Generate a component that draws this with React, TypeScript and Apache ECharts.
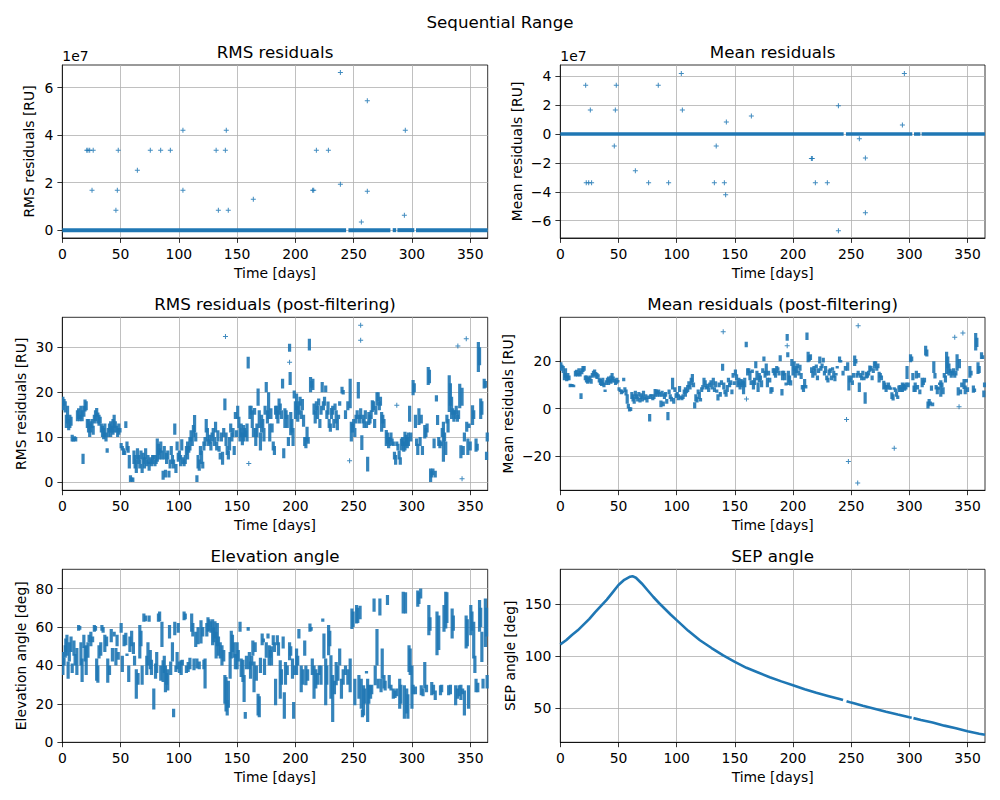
import React, { useEffect, useRef } from 'react';
import * as echarts from 'echarts';

const BLUE = '#1f77b4';
const FONT = 'DejaVu Sans';

// ---------- tick values ----------
const X_TICKS = [0, 50, 100, 150, 200, 250, 300, 350];
const RMS_TICKS = [0, 2e7, 4e7, 6e7];
const MEAN_TICKS = [-6e7, -4e7, -2e7, 0, 2e7, 4e7];
const RMS_POST_TICKS = [0, 10, 20, 30];
const MEAN_POST_TICKS = [-20, 0, 20];
const ELEV_TICKS = [0, 20, 40, 60, 80];
const SEP_TICKS = [50, 100, 150];

// ---------- RMS / Mean residuals (raw) ----------
// dense runs of points at zero: [startDay, endDay, value]
const RMS_ZERO_RUNS = [[0, 243.5, 0], [245.5, 281.5, 0], [283.5, 286.5, 0], [287.5, 302, 0], [303.5, 365, 0]];
const MEAN_ZERO_RUNS = [[0, 243.5, 0], [245.5, 302.5, 0], [304, 309.5, 0], [310.5, 365, 0]];

const RMS_OUTLIERS = [
  [21, 3.36e7], [22, 3.36e7], [23.5, 3.36e7], [26.5, 3.36e7], [25.5, 1.68e7], [46, 0.84e7], [47.2, 1.68e7],
  [48, 3.36e7], [64.4, 2.52e7], [75.5, 3.36e7], [84.4, 3.36e7], [92.7, 3.36e7], [103.5, 4.2e7], [103.5, 1.68e7],
  [132, 3.36e7], [133.9, 0.84e7], [139.9, 3.36e7], [140.7, 4.2e7], [142.4, 0.84e7], [163.9, 1.3e7],
  [214.8, 1.68e7], [215.7, 1.68e7], [218, 3.36e7], [228.3, 3.36e7], [238.6, 6.63e7], [238.6, 1.93e7],
  [256.6, 0.34e7], [261.7, 5.45e7], [261.7, 1.64e7], [293.5, 0.63e7], [294.3, 4.2e7],
];

const MEAN_OUTLIERS = [
  [21.8, 3.38e7], [22.3, -3.38e7], [24.4, -3.38e7], [26.9, -3.38e7], [25.8, 1.66e7], [46.4, -0.83e7],
  [47.3, 1.66e7], [48.1, 3.38e7], [64.5, -2.55e7], [75.9, -3.38e7], [84.2, 3.38e7], [93.1, -3.38e7],
  [104, 4.2e7], [104.9, 1.66e7], [132.4, -3.38e7], [134, -0.83e7], [141, -3.38e7], [142.1, -4.2e7],
  [142.7, 0.83e7], [164.2, 1.24e7], [215.8, -1.7e7], [216.6, -1.7e7], [219.2, -3.38e7], [229.5, -3.38e7],
  [239, 1.95e7], [239, -6.7e7], [257, -0.32e7], [262.2, -1.66e7], [262.2, -5.45e7], [294, 0.62e7], [295.7, 4.2e7],
];

// ---------- post-filtering: passes as [day, low, high] ----------
const RMS_POST_PASSES = [
  [0.5,16,19],[1.5,17,18.5],[2.5,15.5,18],[3.5,12,15],[4.5,13,17],[5.5,11.5,14],[6.5,12,15],[7.5,12.5,14.5],
  [8.5,9,10.5],[9.5,9,10],[10.5,9.2,10.2],[11.5,9,10],[13,13.5,16],[14,14,16.4],[15,13.5,15],[16,14,17],
  [17,13.5,16],[17.8,4,6.3],[18.5,14.5,17],[19.5,15.7,18.4],[20.5,16,18],[21.5,12,14],[22.5,11,14],[23.5,10,13],
  [24.5,11,13.5],[25.5,12,14],[26.5,10.5,12.5],[27.5,13,15],[28.5,13.5,16],[29.5,14.5,16.5],[30.5,13,15.5],
  [31.5,12.5,15],[32.5,13,14.5],[33.5,11,13],[34.5,10,12.5],[35.5,9.5,12],[36.5,10,13],[37.5,9,11],[38.5,6.5,7.5],
  [39.5,10,12],[40.5,11,13],[41.5,10,13.5],[42.5,11,12.5],[43.5,10.5,14],[44.5,11,15],[45.5,12,13.5],[46.5,11,12.5],
  [47.5,10,12],[48.5,10.5,13],[49.5,11,12],[50.5,7.5,8.7],[51.5,7,8],[52.5,6,7.5],[53.5,6,7],[54.5,12,13.5],
  [55.5,7,9],[56.5,6.5,8],[57.5,3,6],[58.5,0,1.5],[59.5,0.2,1],[60.5,0,1],[61.5,4,7],[62.5,3,6],[63.5,2,5],
  [64.5,5,7.5],[65.5,4,6],[66.5,3,5],[67.5,5,7],[68.5,2,4],[69.5,4,6.5],[70.5,3,5.5],[71.5,5,7.5],[72.5,3.5,5],
  [73.5,4,6],[74.5,2.5,4.5],[75.5,4,5.5],[76.5,3.5,5],[77.5,4,6],[78.5,5,6],[79.5,3.5,5],[80.5,4,6],[81.5,4.5,9.7],
  [82.5,6,8.5],[83.5,5,7.5],[84.5,6.5,9],[85.5,5,7],[86.5,0.5,2.5],[87.5,5,8],[88.5,1,2.7],[89.5,4,6.5],[90.5,5,7],
  [91.5,1,2.5],[92.5,3,5],[93.5,6,8],[94.5,4,6],[95.5,3,5],[96.5,10.5,13],[97.5,2,4],[98.5,7,9],[99.5,4.5,6.5],
  [100.5,5,7],[101.5,3.5,6],[102.5,7,9.5],[103.5,4,5.5],[104.5,3.5,5],[105.5,4,6],[106.5,6,8],[107.5,5,9],
  [108.5,6.5,8],[109.5,7,10],[110.5,9,11.5],[111.5,8,10],[112.5,10,12.7],[113.5,11,14.9],[114.5,9,11],[115.5,0,1.5],
  [116.5,3,6],[117.5,2.5,5],[118.5,6,8],[119.5,4,7],[120.5,3,4.5],[121.5,7,9],[122.5,8,10],[123.5,11,14],
  [124.5,9,12],[125.5,8,9.5],[126.5,8.5,10.5],[127.5,7,9],[128.5,9,11],[129.5,10,12],[130.5,8,10],[131.5,11,13.4],
  [132.5,7,9],[133.5,9,11.5],[134.5,6.7,8],[135.5,5,6.5],[136.5,9,11],[137.5,3.8,6.7],[138.5,10,12],[139.5,16,18.6],
  [140.5,8,11],[141.5,6,8],[142.5,5,7],[143.5,7,10],[144.5,11,13],[145.5,9,11],[146.5,10,12],[147.5,6,8],
  [148.5,14,15.6],[149.5,10,11.5],[150.5,14,17],[151.5,12,14.5],[152.5,9,12],[153.5,10,13],[154.5,8.2,11],
  [155.5,9,12.7],[156.5,10,12],[157.5,10,11.5],[158.5,9,13],[159.5,25.3,27.9],[161,14,17],[162,15,17],[163,12,16],
  [164,10,12],[165,15,16.5],[166,8,12],[167,10,13],[168,17,20.8],[169,12,16],[170,7,11],[171,11,15],[172,12,14],
  [173,9,12],[174,15,17],[175,20,22.3],[176,13,16],[177,14,20],[178,9,13],[179,14,16.4],[180,11,13],[181,7,9],
  [182,6,8],[183,15,17],[184,14,17],[185,13,16],[186,15,18.6],[187,16,17.5],[188,14,16],[189,20.8,23],[190,5.3,7.5],
  [191,12,16.4],[192,14,16],[193,12,15],[194,8,10],[195,29,30.8],[195.5,21.6,24.5],[196,10.4,15.6],[197,11,14],
  [198,8,12],[199,18.6,20.4],[200,14,18],[201,16,19.7],[202,13.4,17],[203,15,18],[204,17,19],[205,14,16],
  [206,16,18.5],[207,12.3,15],[208,8,10],[209,7.5,10],[210,9,12.3],[211,8.5,10],[212,29.3,31.9],[213,20,23.4],
  [214,21,22.5],[215,20.5,23],[216,15,17.5],[217,13,16],[218,16,18],[219,14,17],[220,17,18.6],[221,12,14],
  [222,15,17],[223,20,22.3],[224,16,18],[225,17,19],[226,20,21.5],[227,14,16],[228,15,17.9],[229,12,14],
  [230,11.2,13],[231,14,16.5],[232,15,17],[233,12,14],[234,16,17.5],[235,13,16],[236,11.5,14],[237,14,15],
  [238,17,18],[240,19.7,21.2],[241,19.5,20.5],[243,14,16],[245,16,18],[247,16.4,23],[248,9,13.4],[249,11,13],
  [250,12,14],[251,10,12],[252,13,15],[253,14,16],[254,18.6,22.3],[255,13,15],[256,14,16.4],[257,7.1,10.4],
  [258,13,15],[259,12,14],[260,14,16],[261,12,13.5],[262,2.3,5.6],[263,12.7,15.6],[264,13,15],[265,14,16],
  [266,15.6,18.2],[267,16,18],[268,12,14],[269,15,17],[270,17,20],[271,18,20],[272,16,18],[273,17,19],
  [274,11.2,15.6],[275,13,15],[276,12,14],[278,8,11.6],[279,8.5,11],[280,7.5,10],[281,8,10],[282,9,11],
  [283,8.2,9.7],[284,8,9],[285,5,6.7],[286,3.8,6],[287,8,9],[288,7,8.5],[289,5,7],[290,3.8,5.5],[291,7,9.7],
  [292,8,10],[293,6.7,9],[294,7,11.2],[295,8,10.5],[296,7.5,10],[297,8,11],[298,13.4,17],[299,9,11],
  [301,19.3,22.7],[302,20,22],[303,12,15],[304,8,9.7],[305,6,8.5],[306,12.7,16.4],[307,8,10],[308,13,15],
  [309,6,8],[311,9.7,12.7],[312,10,12],[313,11,13],[314,21.6,25.6],[315,22,25],[316,0,3],[317,1,2.5],[318,1.5,3],
  [319,7.5,9.7],[320,1,2.5],[321,17.9,19.3],[322,12.7,14.9],[323,8,10],[324,7.5,9.3],[325,8,9],[326,10,12],
  [327,4.5,13.4],[328,9,11],[329,6,9],[330,13,15],[331,11,14],[332,15.6,23.8],[333,17,22],[334,14,19],
  [335,15,16.4],[336,13.4,16],[337,14,16],[338,15,17],[339,13.4,15],[340,14,16],[341,16.4,21.9],[342,5.3,8.2],
  [343,17,21],[344,6,8],[345,9,11],[347,11.2,13.4],[348,6,9.7],[349,12,13],[350,7,9],[352,12.7,17.1],[353,14,16],
  [355,6.7,9.7],[356,7,8.5],[357,24.5,31.2],[358,26,30],[359,14,18.6],[360,15,18],[362,20.8,23],[363,21,22.5],
  [364,4.9,6.7],[364.6,9,11],
];
const RMS_POST_OUTLIERS = [
  [140, 32.4], [256, 34.9], [256, 31.6], [246.5, 4.7], [160, 4.1], [287, 17.1], [339.4, 30.3],
  [343, 0.7], [346.6, 31.9], [195, 26.7],
];

const MEAN_POST_PASSES = [
  [0.5,16,19.6],[1.5,17,18.5],[2.5,15,18],[3.5,12,15],[4.5,13,17],[5.5,11.5,14],[6.5,12,15],[7.5,12,14],
  [8.5,9,10.5],[9.5,9.3,10.3],[10.5,9.2,10.2],[11.5,9,10],[13,13.5,16],[14,14,16.4],[15,13.5,15],[16,14,17],
  [17,13.5,16],[17.8,4,6.5],[18.5,14.5,17],[19.5,15.5,18],[20.5,16,18],[21.5,12,14],[22.5,11,14],[23.5,10.5,13],
  [24.5,11,13.5],[25.5,12,14],[26.5,10.5,12.5],[27.5,13,15],[28.5,13.5,16],[29.5,14,16.5],[30.5,13,15.5],
  [31.5,12.5,15],[32.5,13,14.5],[33.5,11,13],[34.5,10,12.5],[35.5,9.5,12],[36.5,10,13],[37.5,9,11],[38.5,7,8],
  [39.5,10,12],[40.5,11,13],[41.5,10,13.5],[42.5,11,12.5],[43.5,10.5,14],[44.5,11,15],[45.5,12,13.5],[46.5,11,12.5],
  [47.5,10,12],[48.5,10.5,13],[49.5,11,12],[50.5,7.5,9],[51.5,7,8],[52.5,6,8],[53.5,6.5,7.5],[54.5,11.5,13],
  [55.5,7,9],[56.5,5.5,8],[57.5,2,6],[58.5,0,2],[59.5,-1.3,0.5],[60.5,-1,0.5],[61.5,4,7],[62.5,3,6],[63.5,2,5],
  [64.5,5,7.5],[65.5,4,6],[66.5,3,5],[67.5,5,7],[68.5,2.5,4.5],[69.5,4,6.5],[70.5,3,5.5],[71.5,5,7.5],[72.5,3.5,5],
  [73.5,4,6],[74.5,2.5,4.5],[75.5,4,5.5],[76.8,-5.5,-2.3],[77.5,4,6],[78.5,5,6],[79.5,3.5,5],[80.5,4,6],[81.5,5,8.3],
  [82.5,6,8],[83.5,5,7.5],[84.5,6,8],[85.5,5,7],[86.5,0.5,3.4],[87.5,5,7.5],[88.5,1,3],[89.5,4,6.5],[90.5,5,7],
  [91.5,2,4],[92.5,-5,-1.5],[93.5,6,8],[94.5,4,6],[95.5,3,5],[96.5,8,13],[97.5,2,4.5],[98.5,7,9],[99.5,4.5,6.5],
  [100.5,5,7],[101.5,3.5,6],[102.5,7,9.5],[103.5,4,5.5],[104.5,3.5,5],[105.5,4,6],[106.5,6,8],[107.5,5,9],
  [108.5,6.5,8],[109.5,7,10],[110.5,9,11.5],[111.5,8,10],[112.5,10,13],[113.5,11,14.6],[114.5,9,11],[115.5,0,2.7],
  [116.5,3,6],[117.5,2.5,5],[118.5,6,8],[119.5,4,7],[120.5,3,4.5],[121.5,7,9],[122.5,8,10],[123.5,10,13],
  [124.5,9,12],[125.5,8,9.5],[126.5,8.5,10.5],[127.5,7,9],[128.5,9,11],[129.5,10,12],[130.5,8,10],[131.5,10,13],
  [132.5,7,9],[133.5,9,11.5],[134.5,6.7,8],[135.5,3.4,6],[136.5,9,11],[137.5,5,7],[138.5,10,12],[139.5,16,18.9],
  [140.5,8,11],[141.5,6,8],[142.5,5,7],[143.5,7,10],[144.5,11,13],[145.5,9,11],[146.5,10,12],[147.5,6,8],
  [148.5,13,15],[149.5,10,11.5],[150.5,14,16.5],[151.5,12,14.5],[152.5,9,12],[153.5,10,13],[154.5,8,11],
  [155.5,9,12.5],[156.5,10,12],[157.5,6,11.5],[158.5,9,13],[159.8,25.9,28.3],[161,14,17],[162,15,17],[163,12,16],
  [164,10,12],[165,15,16.5],[166,8,12],[167,10,13],[168,17,20],[169,12,16],[170,7,11],[171,11,15],[172,12,14],
  [173,9,12],[174,15,17],[175,20,22],[176,13,16],[177,14,19],[178,9,13],[179,14,16],[180,11,13],[181,6.2,9],
  [182,7,9],[183,15,17],[184,14,17],[185,13,16],[186,15,18],[187,16,17.5],[188,14,16],[189,20,22.5],[190.5,5.5,8.3],
  [191,12,16],[192,14,16],[193,12,15],[194,9.7,11],[195,28.7,31.5],[195.5,21.7,23.8],[196,10,16],[197,11,14],
  [198,9.7,12],[199,18,21],[200,14,18],[201,16,20],[202,13,17],[203,15,18],[204,17,19],[205,14,16],
  [206,16,18.5],[207,12.5,15],[208,8,10],[209,7,10],[210,9,12.5],[211,8.5,10],[212,29,32.2],[213,19.6,24],
  [214,20,22.5],[215,20.5,23],[216,15,17.5],[217,13,16],[218,16,18],[219,14,17],[220,17,18.6],[221,12,14],
  [222,15,17],[223,19,22],[224,16,18],[225,17,19],[226,19.5,21.5],[227,14,16],[228,15,18],[229,12,14],
  [230,11,13],[231,14,16.5],[232,15,17],[233,12,14],[234,16,17.5],[235,13,16],[236,11.5,14],[237,14,15],
  [238,17,18],[240,19.6,22],[241,19.5,20.5],[243,14,16],[245,16,18],[247,16,19.6],[248,7.6,14],[249,11,13],
  [250,12,14],[251,10,12],[252,13,15],[253,18,22.4],[254,19,21],[255,13,15],[256,14,16],[257,7,11],
  [258,13,15],[259,12,14],[260,14,16],[261,12,13.5],[262,2,6.9],[263,12.7,15.6],[264,13,15],[265,14,16],
  [266,15.6,18.2],[267,16,18],[268,12,14],[269,15,17],[270,17,20],[271,18,20],[272,16,18],[273,17,19],
  [274,11,15.6],[275,13,15],[276,12,14],[278,8,11.8],[279,8.5,11],[280,7,10],[281,8,10],[282,9,11],
  [283,8,9.7],[284,8,9],[285,4,6.9],[286,3.4,6],[287,8,9],[288,7,8.5],[289,5,7],[290,4,5.5],[291,7,9.7],
  [292,8,10],[293,7,9],[294,7,11],[295,8,10.5],[296,7.5,10],[297,8,11],[298,12.5,18],[299,9,11],
  [301,19.6,23],[302,20,22],[303,12,15],[304,7,9.7],[305,7,11],[306,12.7,16],[307,8,10],[308,13,15],
  [309,6,8],[311,9,13],[312,10,12],[313,11,13],[314,22.4,26.6],[315,22,25],[316,0,3],[317,1,4],[318,1.5,3],
  [319,7.5,9.7],[320,1,2.5],[321,15,20],[322,12.7,15],[323,8,10],[324,6,9.3],[325,8,9],[326,10,11],
  [327,5,12],[328,9,11],[329,6,9],[330,13,15],[331,11,14],[332,14.6,24],[333,17,22],[334,14,19],
  [335,15,16.8],[336,13,16],[337,14,16],[338,15,17],[339,13,15],[340,14,16],[341,16,23],[342,5.5,9],
  [343,17,21],[344,6,8],[345,9,11],[347,8.3,12.5],[348,6,9.7],[349,11,12.5],[350,7,9],[352,13,18],[353,14,16],
  [355,6.7,9.7],[356,7,8.5],[357,24.5,32],[358,26,30],[359,14.6,19.6],[360,15,18],[362,21,23.8],[363,21,22.5],
  [364,4.8,7.6],[364.6,9,11],
];
const MEAN_POST_OUTLIERS = [
  [140, 32.5], [160, 4], [246, -4.6], [247.6, -22.4], [255.6, -31.5], [256, 35], [287, -16.8],
  [339, 30.2], [342.7, 0.8], [346, 32], [195, 26.6],
];

// ---------- elevation passes [day, low, high] ----------
const ELEV_PASSES = [
  [0.5,35,47],[1.5,40,44],[2.5,44,50.5],[3,47,54],[4,45,56],[5,33,42],[6,42,52],[7.5,47,55],[8.5,36,41],[10,45,53],
  [11,40,46],[12.5,35,49],[14,58,61],[15,58.5,60.5],[16,40,52],[17,31.4,43.6],[18.5,49,56],[19.5,42,50],
  [20.5,35,50.5],[22,44,52],[23,52,56],[24.5,50,57.5],[26,52,55],[27.5,57.5,61],[28.5,58,60.5],[29.5,32,43.6],
  [30.5,31,40],[31.5,43.6,50.5],[33,45,52],[34,58,61],[35,57,60],[36.5,47,56],[38,50,55],[39,31,43.6],
  [40.5,35,40],[42,52,59],[43,42,49],[44.5,55,57.5],[46,40,49],[47,50,56],[48,43,47],[50.5,57,62],
  [51.5,36.6,45],[53,50,56],[54.5,50.5,57],[55.5,45,46],[57,31.4,40],[58,47,55],[59.5,50,58],[61,46,52],
  [62,40,45],[63.5,22.7,38],[65,30,36],[66.5,43.6,61],[67.5,50,58],[68.5,30,40],[70,62.7,67],[71.5,63,66],
  [72.5,35,45],[73.5,40,52],[74.5,62.7,66],[75.5,38,48],[76.5,35,43],[78.5,17,28],[80,33,41],[81,36,47],
  [82.5,62.7,67],[83.5,63,68],[84.5,32,40],[85.5,49.6,62.7],[86.5,31.4,42.7],[87.5,36,45],[88.5,26,40],
  [89.5,30,36],[90.5,27,38],[92,54,61],[93,35,42],[94.5,42,52],[95.5,13,17.5],[96.5,55.7,62.7],[97.5,36.6,40],
  [98.5,38,47],[99.5,57,62],[100.5,36,42],[102,35,42.7],[103,40,43],[104.5,63.5,68],[105.5,64,67],[106.5,36,40],
  [108,36.6,41.8],[109.5,38,44],[111,57.5,67],[112,55,62],[113,37.5,43.6],[114.5,49.6,57.5],[115.5,38.4,43.6],
  [116.5,51,60],[117.5,38,42],[119,51.4,63.5],[120.5,55,60],[121.5,38,43],[122.5,28,43.6],[124,55,62],
  [125,57.5,65],[126,58,64],[127.5,57,63],[129,50.5,64],[130,52,60],[131,54,63],[132,43.6,57.5],[133,50,62],
  [134,45,55],[135.5,43.6,52],[137,40,50.5],[138.5,42,48],[139.5,20,35],[140.5,16,34],[141.5,14,22],
  [142.5,18,32],[144,33,47],[145,43.6,58],[146,47,56],[147.5,44,52],[148.5,38,46],[150,38,52],[151,42,48],
  [152.5,57.5,62.7],[153.5,34,43.6],[155,31.4,43],[156,21,35],[157,12.3,15.8],[158,38,45],[159.5,58,60],
  [160.5,38,47],[161.5,33,42],[162.5,40,45],[163.5,45,53],[164.5,26,42],[165.5,47,52],[166.5,32,40],
  [168,14,25.3],[169,13,24],[170,36,44],[171.5,50.5,56.6],[172.5,52,54],[173.5,35,43.6],[175,44,52],
  [176.5,54,56.6],[177.5,40,50.5],[178.5,44,48],[179.5,40,50],[181,50.5,55.7],[182,47,52],[183,19.3,33],
  [184.5,50.5,55.7],[185.5,45,52],[187,22.7,42.7],[188,30,38],[189.5,48.8,55],[190.5,12.3,26],[191.5,30,41.8],
  [193,35,40],[195,42.7,52],[196,45,50],[197.5,33,43.6],[198.5,12.3,21],[199.5,35,40],[201,35,48.8],
  [202,40,45],[203,54,59],[205,26,40],[206.5,30,38],[208,45,53],[209,29.7,40],[210.5,32,38],[212.5,57.5,61.8],
  [213.5,58,60],[214.5,35,43.6],[216,22.7,40],[217.5,28,38],[219,30,36],[220.5,35,40],[222,30,40],
  [223.5,62.7,64.4],[224.5,43.6,56.6],[226,19.3,43.6],[227,30,40],[228.5,45.3,61],[229.5,50,58],
  [230.5,22.7,45.3],[232,10.6,35],[233.5,25,32],[235,29.7,41.8],[236.5,32,40],[238,40,48.8],[239.5,22.7,33],
  [241,30,38],[243,35,40],[245,30,38],[247,26,43.6],[248.5,59,69.6],[249.5,60,68],[251,19.3,33],
  [252.5,61.8,71.4],[253.5,62,70],[254.5,22.7,35],[255.5,64,71],[256.5,17.5,33],[257.5,13,17],[258.5,14,29.7],
  [259.5,20,28],[261,36,37],[262,10.6,33],[263,20,30],[264.5,22.7,29.7],[265.5,25,30],[267.5,67.9,74.8],
  [268.5,29.7,40],[270,40,59],[271,28,33],[272.5,66,74.8],[273.5,26,33],[274.5,33,48.8],[276,28,35],
  [277,27,32],[279,71.4,76.6],[280.5,28,35],[282,27,30],[284,22.7,28],[285.5,23,27],[287,24,28],
  [289.5,17.5,33],[290.5,20,30],[292.5,67,78.3],[293.5,12.3,29.7],[294.5,67,78],[295.5,15,28],[296.5,12.3,25],
  [297.5,36.6,50.5],[298.5,35,48.8],[300,17.5,40],[301,25,30],[303,25,29],[305,70.5,79],[306,72,78],
  [307.5,74.8,80],[308,24.5,29.7],[309.5,24,28],[311,28,41.8],[312.5,26,30],[314.5,55.7,71.4],[315.5,58,65],
  [317,24.5,31.4],[318.5,25,30],[320,22,27],[321.5,45.3,68],[323,48,66],[324.5,24.5,29.7],[325.5,26,30],
  [327.5,57.5,71.4],[329,59.2,78.3],[330,62,78],[331.5,24.5,29.7],[333,25,30],[334.5,54,69.6],[335.5,58,66],
  [337.5,19.3,29.7],[339,22.7,28],[340.5,24,29.7],[342,22,30],[343.5,25,28],[345,14,27],[346.5,48.8,66],
  [347.5,50,64],[348.5,17.5,29.7],[350.5,55.7,71.4],[351.5,58,68],[353,43.6,62.7],[354,36,45],[355,26,33],
  [356.5,26,31],[358,57.5,74],[359,60,70],[360,41.8,57.5],[361,28,33],[363,49.6,74.8],[364,55,70],[364.5,28,35],
];

// ---------- SEP angle (three runs, small gaps between) ----------
const SEP_DAYS_A = [0, 5, 10, 15, 20, 25, 30, 35, 40, 45, 50, 55, 60, 62, 65, 70, 75, 80, 85, 90, 95, 100, 110, 120, 130, 140, 150, 160, 170, 180, 190, 200, 210, 220, 230, 240, 243];
const SEP_VALS_A = [111, 115, 120, 124.5, 130, 135.5, 142, 148, 154, 161, 168, 173, 176, 176.5, 175, 169.5, 163, 156.5, 150.5, 145, 139.5, 134.3, 124, 115, 107.5, 100.5, 94.2, 88.5, 84, 79.5, 75.5, 71.8, 68, 64.5, 61.5, 58.5, 57.5];
const SEP_DAYS_B = [246, 250, 260, 270, 280, 290, 300, 302];
const SEP_VALS_B = [56.5, 55.1, 52, 49.2, 46.3, 43.6, 41, 40.5];
const SEP_DAYS_C = [303.5, 310, 320, 330, 340, 350, 360, 365];
const SEP_VALS_C = [40.2, 38.5, 36, 33, 30.5, 27.6, 25.3, 24.2];

// ---------- layout ----------
const GRIDS = [
  { left: 62.3, top: 65, width: 425.4, height: 173 },
  { left: 560.3, top: 65, width: 424.7, height: 173 },
  { left: 62.3, top: 317.3, width: 425.4, height: 173 },
  { left: 560.3, top: 317.3, width: 424.7, height: 173 },
  { left: 62.3, top: 569.3, width: 425.4, height: 173 },
  { left: 560.3, top: 569.3, width: 424.7, height: 173 },
];

const PLUS = 'path://M4,0H6V4H10V6H6V10H4V6H0V4H4Z';
const minus = (s: string) => s.replace('-', '\u2212');

function zip(a: number[], b: number[]) {
  return a.map((v, i) => [v, b[i]]);
}

const passRender = (params: any, api: any) => {
  const x = api.value(0);
  const lo = api.value(1);
  const hi = api.value(2);
  const t = api.coord([x, hi]);
  const b = api.coord([x, lo]);
  let h = b[1] - t[1];
  let y = t[1];
  if (h < 2.5) { y -= (2.5 - h) / 2; h = 2.5; }
  return { type: 'rect', shape: { x: t[0] - 1.6, y, width: 3.2, height: h }, style: { fill: BLUE, opacity: 0.9 } };
};

const runRender = (thick: number) => (params: any, api: any) => {
  const a = api.coord([api.value(0), api.value(2)]);
  const b = api.coord([api.value(1), api.value(2)]);
  return { type: 'rect', shape: { x: a[0], y: a[1] - thick / 2, width: b[0] - a[0], height: thick }, style: { fill: BLUE } };
};

const textStyle = { fontFamily: FONT, fontSize: 13.9, color: '#000' };

function makeX(i: number) {
  return {
    type: 'value', gridIndex: i, min: 0, max: 365,
    name: 'Time [days]', nameLocation: 'middle', nameGap: 28, nameTextStyle: textStyle,
    axisLine: { show: true, onZero: false, lineStyle: { color: '#000', width: 0.8 } },
    axisTick: { show: true, length: 4.9, lineStyle: { color: '#000', width: 0.8 }, customValues: X_TICKS },
    axisLabel: { ...textStyle, margin: 9, customValues: X_TICKS },
    splitLine: { show: true, lineStyle: { color: '#b0b0b0', width: 0.8 } },
  };
}

function makeY(i: number, name: string, min: number, max: number, ticks: number[], gap: number, fmt: (v: number) => string) {
  return {
    type: 'value', gridIndex: i, min, max,
    name, nameLocation: 'middle', nameGap: gap, nameTextStyle: textStyle,
    axisLine: { show: true, onZero: false, lineStyle: { color: '#000', width: 0.8 } },
    axisTick: { show: true, length: 4.9, lineStyle: { color: '#000', width: 0.8 }, customValues: ticks },
    axisLabel: { ...textStyle, margin: 9, customValues: ticks, formatter: fmt },
    splitLine: { show: true, lineStyle: { color: '#b0b0b0', width: 0.8 } },
  };
}

const fmtE7 = (v: number) => minus(String(Math.round(v / 1e7)));
const fmtPlain = (v: number) => minus(String(v));

function makeTitle(text: string, x: number, y: number, size: number, align = 'center') {
  return {
    text, left: x, top: y, padding: 0, textAlign: align, textVerticalAlign: 'middle',
    textStyle: { fontFamily: FONT, fontSize: size, fontWeight: 'normal', color: '#000' },
  };
}

const scatter = (xi: number, data: number[][]) => ({
  type: 'scatter', xAxisIndex: xi, yAxisIndex: xi, data, symbol: PLUS, symbolSize: 5,
  itemStyle: { color: BLUE, opacity: 0.85 }, silent: true,
});

const sepLine = (data: number[][]) => ({
  type: 'line', xAxisIndex: 5, yAxisIndex: 5, data, showSymbol: false, symbol: 'none',
  lineStyle: { color: BLUE, width: 2.6 }, silent: true,
});

export default function App() {
  const ref = useRef<HTMLDivElement>(null);
  useEffect(() => {
    if (!ref.current) return;
    const chart = echarts.init(ref.current, undefined, { renderer: 'svg' });
    chart.setOption({
      animation: false,
      backgroundColor: '#fff',
      title: [
        makeTitle('Sequential Range', 500, 22, 16.7),
        makeTitle('RMS residuals', 275, 51.5, 16.7),
        makeTitle('Mean residuals', 772.6, 51.5, 16.7),
        makeTitle('RMS residuals (post-filtering)', 275, 303.8, 16.7),
        makeTitle('Mean residuals (post-filtering)', 772.6, 303.8, 16.7),
        makeTitle('Elevation angle', 275, 555.8, 16.7),
        makeTitle('SEP angle', 772.6, 555.8, 16.7),
        makeTitle('1e7', 62.3, 56, 13.9, 'left'),
        makeTitle('1e7', 560.3, 56, 13.9, 'left'),
      ],
      grid: GRIDS.map((g) => ({ ...g, show: true, borderColor: '#000', borderWidth: 0.8, backgroundColor: 'transparent' })),
      xAxis: [0, 1, 2, 3, 4, 5].map(makeX),
      yAxis: [
        makeY(0, 'RMS residuals [RU]', -0.33e7, 6.95e7, RMS_TICKS, 26, fmtE7),
        makeY(1, 'Mean residuals [RU]', -7.2e7, 4.78e7, MEAN_TICKS, 36, fmtE7),
        makeY(2, 'RMS residuals [RU]', -1.87, 36.7, RMS_POST_TICKS, 34.5, fmtPlain),
        makeY(3, 'Mean residuals [RU]', -34.6, 38.6, MEAN_POST_TICKS, 45, fmtPlain),
        makeY(4, 'Elevation angle [deg]', 0, 90, ELEV_TICKS, 34.5, fmtPlain),
        makeY(5, 'SEP angle [deg]', 17, 183.1, SEP_TICKS, 43.5, fmtPlain),
      ],
      series: [
        { type: 'custom', xAxisIndex: 0, yAxisIndex: 0, data: RMS_ZERO_RUNS, renderItem: runRender(4), clip: true, silent: true },
        scatter(0, RMS_OUTLIERS),
        { type: 'custom', xAxisIndex: 1, yAxisIndex: 1, data: MEAN_ZERO_RUNS, renderItem: runRender(3.5), clip: true, silent: true },
        scatter(1, MEAN_OUTLIERS),
        { type: 'custom', xAxisIndex: 2, yAxisIndex: 2, data: RMS_POST_PASSES, renderItem: passRender, clip: true, silent: true },
        scatter(2, RMS_POST_OUTLIERS),
        { type: 'custom', xAxisIndex: 3, yAxisIndex: 3, data: MEAN_POST_PASSES, renderItem: passRender, clip: true, silent: true },
        scatter(3, MEAN_POST_OUTLIERS),
        { type: 'custom', xAxisIndex: 4, yAxisIndex: 4, data: ELEV_PASSES, renderItem: passRender, clip: true, silent: true },
        sepLine(zip(SEP_DAYS_A, SEP_VALS_A)),
        sepLine(zip(SEP_DAYS_B, SEP_VALS_B)),
        sepLine(zip(SEP_DAYS_C, SEP_VALS_C)),
      ],
    });
    return () => chart.dispose();
  }, []);
  return <div ref={ref} style={{ position: 'absolute', left: 0, top: 0, width: 1000, height: 800 }} />;
}
